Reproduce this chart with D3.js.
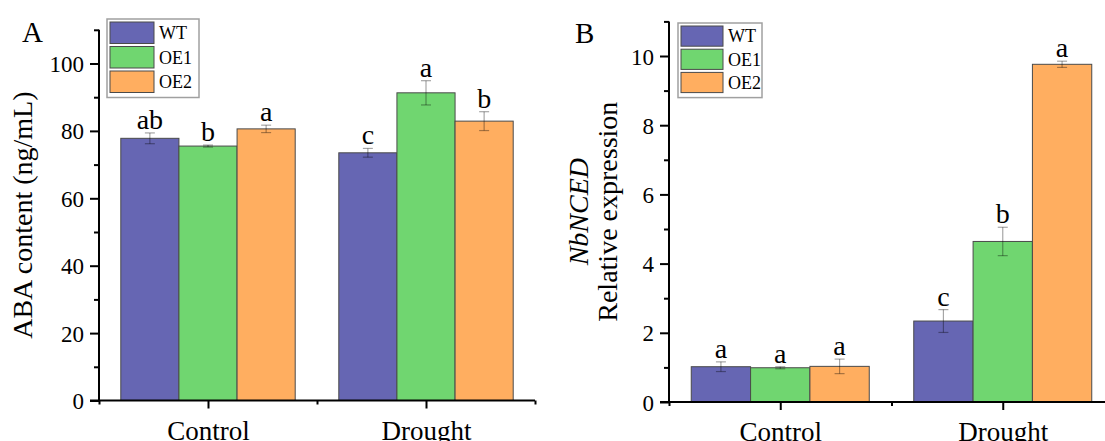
<!DOCTYPE html>
<html>
<head>
<meta charset="utf-8">
<script src="https://cdn.jsdelivr.net/npm/d3@7"></script>
<style>
  body { margin: 0; background: #fff; }
  svg { display: block; font-family: "Liberation Serif", "Times New Roman", serif; }
</style>
</head>
<body>
<div id="chart"></div>
<script>
// data
var genotypes = ['WT', 'OE1', 'OE2'];
var conditions = ['Control', 'Drought'];
var colors = ['#6666b3', '#70d670', '#ffae60'];

// panel A: ABA content, [condition][genotype]
var abaMean = [[77.8, 75.5, 80.6], [73.5, 91.3, 82.9]];
var abaErr = [[1.6, 0.3, 1.1], [1.3, 3.6, 2.8]];
var abaLetters = [['ab', 'b', 'a'], ['c', 'a', 'b']];
var abaTicks = [0, 20, 40, 60, 80, 100];
var abaMinor = [10, 30, 50, 70, 90, 110];

// panel B: NbNCED relative expression
var ncedMean = [[1.02, 0.99, 1.03], [2.34, 4.64, 9.76]];
var ncedErr = [[0.14, 0.03, 0.21], [0.33, 0.41, 0.09]];
var ncedLetters = [['a', 'a', 'a'], ['c', 'b', 'a']];
var ncedTicks = [0, 2, 4, 6, 8, 10];
var ncedMinor = [1, 3, 5, 7, 9, 11];

var serif = '"Liberation Serif", "Times New Roman", serif';

var svg = d3.select('#chart').append('svg')
    .attr('width', 1105)
    .attr('height', 441);

function drawPanel(p) {
  var g = svg.append('g');

  var x = d3.scaleLinear().domain([-0.5, 1.5]).range(p.xRange);
  var y = d3.scaleLinear().domain([0, p.yMax]).range(p.yRange);
  var bw = (x(1) - x(0)) * 0.8 / 3;

  // bars
  var rows = [];
  p.mean.forEach(function (row, ci) {
    row.forEach(function (v, gi) {
      rows.push({c: ci, g: gi, v: v, e: p.err[ci][gi], l: p.letters[ci][gi]});
    });
  });

  function bx(d) { return x(d.c) - 1.5 * bw + d.g * bw; }

  g.selectAll('rect.bar')
    .data(rows)
    .enter()
    .append('rect')
    .attr('class', 'bar')
    .attr('x', bx)
    .attr('width', bw)
    .attr('y', function (d) { return y(d.v); })
    .attr('height', function (d) { return y(0) - y(d.v); })
    .attr('fill', function (d) { return colors[d.g]; })
    .attr('stroke', '#4a4a4a')
    .attr('stroke-width', 1);

  // error bars
  var eb = g.selectAll('g.err')
    .data(rows)
    .enter()
    .append('g')
    .attr('stroke', '#000')
    .attr('stroke-opacity', 0.35)
    .attr('stroke-width', 1.2);
  eb.append('line')
    .attr('x1', function (d) { return bx(d) + bw / 2; })
    .attr('x2', function (d) { return bx(d) + bw / 2; })
    .attr('y1', function (d) { return y(d.v + d.e); })
    .attr('y2', function (d) { return y(d.v - d.e); });
  [1, -1].forEach(function (s) {
    eb.append('line')
      .attr('x1', function (d) { return bx(d) + bw / 2 - 5; })
      .attr('x2', function (d) { return bx(d) + bw / 2 + 5; })
      .attr('y1', function (d) { return y(d.v + s * d.e); })
      .attr('y2', function (d) { return y(d.v + s * d.e); });
  });

  // significance letters
  g.selectAll('text.letter')
    .data(rows)
    .enter()
    .append('text')
    .attr('x', function (d) { return bx(d) + bw / 2; })
    .attr('y', function (d) { return y(d.v + d.e) - 4; })
    .attr('text-anchor', 'middle')
    .style('font-size', '28px')
    .text(function (d) { return d.l; });

  // y axis
  var yMinor = g.append('g')
    .attr('transform', 'translate(' + x(-0.5) + ',0)')
    .call(d3.axisLeft(y).tickValues(p.minor).tickSize(5).tickSizeOuter(0).tickFormat(''));
  var yAxis = g.append('g')
    .attr('transform', 'translate(' + x(-0.5) + ',0)')
    .call(d3.axisLeft(y).tickValues(p.ticks).tickSize(9).tickSizeOuter(0).tickPadding(6));
  yMinor.select('.domain').remove();
  yAxis.select('.domain').attr('d', 'M0,' + y(0) + 'V' + y(p.yMax));
  yAxis.attr('font-family', serif).attr('font-size', 23);
  yAxis.selectAll('text').attr('dy', '0.35em');

  // x axis
  var xMinor = g.append('g')
    .attr('transform', 'translate(0,' + y(0) + ')')
    .call(d3.axisBottom(x).tickValues([-0.5, 0.5, 1.5]).tickSize(4).tickSizeOuter(0).tickFormat(''));
  xMinor.select('.domain').remove();
  var xAxis = g.append('g')
    .attr('transform', 'translate(0,' + y(0) + ')')
    .call(d3.axisBottom(x).tickValues([0, 1]).tickSize(8).tickSizeOuter(0).tickPadding(12)
      .tickFormat(function (i) { return conditions[i]; }));
  xAxis.select('.domain').attr('d', 'M' + (x(-0.5) - 9) + ',0H' + x(1.5));
  xAxis.attr('font-family', serif).attr('font-size', 27);
  xAxis.selectAll('text').attr('dy', '0.71em');

  g.selectAll('.domain, .tick line').attr('stroke', '#000').attr('stroke-width', 2);
  g.selectAll('.tick text').attr('fill', '#000');

  // y title
  var title = g.append('text')
    .attr('transform', 'translate(' + p.titleX + ',' + (y(0) + y(p.yMax)) / 2 + ') rotate(-90)')
    .attr('text-anchor', 'middle')
    .style('font-size', '28px');
  p.title.forEach(function (t, i) {
    title.append('tspan')
      .attr('x', 0)
      .attr('dy', i === 0 ? 0 : '1.05em')
      .style('font-style', t.italic ? 'italic' : 'normal')
      .text(t.text);
  });

  // panel letter
  g.append('text')
    .attr('x', p.labelPos[0])
    .attr('y', p.labelPos[1])
    .style('font-size', '29px')
    .text(p.label);

  // legend
  var lg = g.append('g').attr('transform', 'translate(' + p.legend[0] + ',' + p.legend[1] + ')');
  lg.append('rect')
    .attr('width', p.legendW)
    .attr('height', 3 * p.rowH + 5)
    .attr('fill', '#fff')
    .attr('stroke', '#a0a0a0')
    .attr('stroke-width', 1.5);
  genotypes.forEach(function (name, i) {
    lg.append('rect')
      .attr('x', 3)
      .attr('y', 3 + i * p.rowH)
      .attr('width', p.swatchW)
      .attr('height', p.rowH - 3)
      .attr('fill', colors[i])
      .attr('stroke', '#4a4a4a')
      .attr('stroke-width', 1);
    lg.append('text')
      .attr('x', p.swatchW + 8)
      .attr('y', 3 + i * p.rowH + (p.rowH - 3) / 2)
      .attr('dy', '0.35em')
      .style('font-size', '18px')
      .text(name);
  });
}

drawPanel({
  mean: abaMean, err: abaErr, letters: abaLetters,
  ticks: abaTicks, minor: abaMinor, yMax: 110,
  xRange: [99, 535], yRange: [400.5, 29.8],
  title: [{text: 'ABA content (ng/mL)'}], titleX: 32,
  label: 'A', labelPos: [22, 42],
  legend: [107, 19], legendW: 92, rowH: 24.5, swatchW: 44
});

drawPanel({
  mean: ncedMean, err: ncedErr, letters: ncedLetters,
  ticks: ncedTicks, minor: ncedMinor, yMax: 11,
  xRange: [669, 1114], yRange: [402, 21.4],
  title: [{text: 'NbNCED', italic: true}, {text: 'Relative expression'}], titleX: 588,
  label: 'B', labelPos: [575, 43],
  legend: [678, 23], legendW: 84, rowH: 23.2, swatchW: 42
});
</script>
</body>
</html>
